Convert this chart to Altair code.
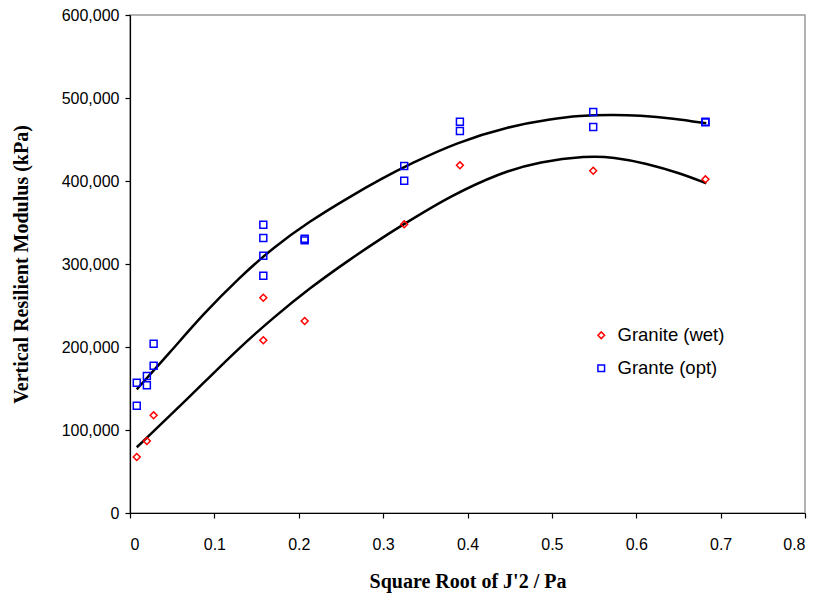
import altair as alt
import pandas as pd

# Measured points
wet_x = [0.008, 0.020, 0.028, 0.158, 0.158, 0.207, 0.325, 0.391, 0.549, 0.682]
wet_y = [67500, 86700, 117700, 259400, 208100, 231300, 347800, 418900, 412400, 402000]

opt_x = [0.008, 0.008, 0.020, 0.020, 0.028, 0.028, 0.158, 0.158, 0.158, 0.158,
         0.207, 0.207, 0.325, 0.325, 0.391, 0.391, 0.549, 0.549, 0.682, 0.682]
opt_y = [157000, 129300, 165100, 153900, 204000, 177500, 347300, 331300, 310000, 285900,
         330500, 328500, 418000, 400400, 471400, 460200, 483100, 465100, 471400, 470600]

# Trend curves
opt_curve_x = [0.008, 0.047, 0.087, 0.130, 0.170, 0.213, 0.257, 0.300, 0.332,
               0.387, 0.450, 0.498, 0.533, 0.570, 0.604, 0.644, 0.683]
opt_curve_y = [149000, 193000, 240000, 284000, 320100, 351500, 379000, 403800, 420500,
               446500, 466000, 474500, 478700, 479800, 479100, 475500, 469500]

wet_curve_x = [0.008, 0.047, 0.091, 0.130, 0.170, 0.213, 0.257, 0.300, 0.332,
               0.379, 0.439, 0.486, 0.541, 0.573, 0.612, 0.652, 0.683]
wet_curve_y = [79200, 117000, 160500, 199500, 235500, 271000, 303000, 332500, 352500,
               381500, 410000, 423500, 430100, 428800, 421300, 409300, 397200]

series_names = ["Granite (wet)", "Grante (opt)"]

pts = pd.DataFrame(
    {"x": wet_x + opt_x,
     "y": wet_y + opt_y,
     "series": [series_names[0]] * len(wet_x) + [series_names[1]] * len(opt_x)}
)
curves = pd.DataFrame(
    {"x": wet_curve_x + opt_curve_x,
     "y": wet_curve_y + opt_curve_y,
     "curve": ["wet"] * len(wet_curve_x) + ["opt"] * len(opt_curve_x)}
)

xscale = alt.Scale(domain=[0, 0.8], nice=False, zero=True)
yscale = alt.Scale(domain=[0, 600000], nice=False)

xaxis = alt.Axis(
    title="Square Root of J'2 / Pa",
    values=[0, 0.1, 0.2, 0.3, 0.4, 0.5, 0.6, 0.7, 0.8],
    labelExpr="datum.value == 0 ? '0' : format(datum.value, '.1f')",
    grid=False, tickSize=5, labelPadding=18, titlePadding=19,
)
yaxis = alt.Axis(
    title="Vertical Resilient Modulus (kPa)",
    values=[0, 100000, 200000, 300000, 400000, 500000, 600000],
    format=",d", grid=False, tickSize=5, labelPadding=6, titlePadding=30,
)

lines = alt.Chart(curves).mark_line(color="black", strokeWidth=2.5, interpolate="basis").encode(
    x=alt.X("x:Q", scale=xscale, axis=xaxis),
    y=alt.Y("y:Q", scale=yscale, axis=yaxis),
    detail="curve:N",
)

points = alt.Chart(pts).mark_point(filled=False, strokeWidth=1.5, size=48, opacity=1).encode(
    x=alt.X("x:Q", scale=xscale),
    y=alt.Y("y:Q", scale=yscale),
    color=alt.Color("series:N", scale=alt.Scale(domain=series_names, range=["#ff0000", "#0000ff"]),
                    legend=alt.Legend(title=None, orient="none", legendX=462, legendY=311,
                                      labelFontSize=18.5, labelFont="Liberation Sans",
                                      labelColor="black", rowPadding=14,
                                      symbolStrokeWidth=1.5, symbolSize=44, symbolOpacity=1,
                                      labelOffset=7, padding=0)),
    shape=alt.Shape("series:N", scale=alt.Scale(domain=series_names, range=["diamond", "square"]),
                    legend=None),
)

chart = alt.layer(lines, points).properties(
    width=675, height=498,
    padding={"left": 130, "top": 15, "right": 17, "bottom": 83},
    autosize=alt.AutoSizeParams(type="none"),
).configure_view(
    stroke="#999999", strokeWidth=1.5,
).configure_axis(
    domainColor="black", tickColor="black", domainWidth=1.2, tickWidth=1.2,
    labelFont="Liberation Sans", labelFontSize=16, labelColor="black",
    titleFont="Liberation Serif", titleFontSize=20, titleFontWeight="bold", titleColor="black",
)

chart.save("out.html", embed_options={"renderer": "svg", "actions": False})
